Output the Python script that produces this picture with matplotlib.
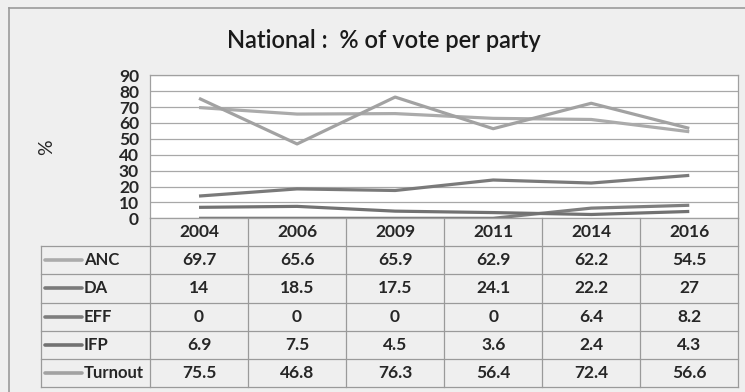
import matplotlib
matplotlib.use("Agg")
import matplotlib.pyplot as plt
from matplotlib.lines import Line2D

years = ["2004", "2006", "2009", "2011", "2014", "2016"]
anc = [69.7, 65.6, 65.9, 62.9, 62.2, 54.5]
da = [14, 18.5, 17.5, 24.1, 22.2, 27]
eff = [0, 0, 0, 0, 6.4, 8.2]
ifp = [6.9, 7.5, 4.5, 3.6, 2.4, 4.3]
turnout = [75.5, 46.8, 76.3, 56.4, 72.4, 56.6]
series_names = ["ANC", "DA", "EFF", "IFP", "Turnout"]
series_vals = [anc, da, eff, ifp, turnout]
series_colors = ["#ababab", "#7a7a7a", "#7e7e7e", "#727272", "#a2a2a2"]
yticks = [0, 10, 20, 30, 40, 50, 60, 70, 80, 90]
title = "National :  % of vote per party"

plt.rcParams["font.family"] = ["Lato", "DejaVu Sans"]

W, H = 745, 392
fig = plt.figure(figsize=(W / 100, H / 100), dpi=100)
fig.patch.set_facecolor("#efefef")

def fx(px):
    return px / W

def fy(py):
    return 1 - py / H

# outer chart border (left + top)
fig.add_artist(Line2D([fx(9), fx(9)], [fy(392), fy(7.5)], color="#9a9a9a", lw=1.2))
fig.add_artist(Line2D([fx(9), fx(745)], [fy(7.5), fy(7.5)], color="#9a9a9a", lw=1.2))

PL, PR, PT, PB = 150, 738.3, 75.3, 218.3
ax = fig.add_axes([fx(PL), fy(PB), fx(PR - PL), (PB - PT) / H])
ax.set_facecolor("white")
x = list(range(len(years)))
for name, vals, c in zip(series_names, series_vals, series_colors):
    ax.plot(x, vals, color=c, lw=2.3, solid_capstyle="butt", zorder=3)
ax.set_xlim(-0.5, len(years) - 0.5)
ax.set_ylim(0, 90)
ax.set_yticks(yticks)
ax.set_yticklabels([str(t) for t in yticks], fontsize=12.5, fontweight="bold", color="#262626")
ax.set_xticks([])
ax.tick_params(axis="y", length=0, pad=8)
ax.yaxis.grid(True, color="#a8a8a8", lw=0.9)
ax.set_axisbelow(True)
for s in ax.spines.values():
    s.set_color("#a0a0a0")
    s.set_linewidth(0.9)
ax.set_ylabel("%", fontsize=14, color="#262626", labelpad=46)

fig.text(fx(384), fy(40), title, fontsize=17, fontweight="semibold", ha="center", va="center",
         color="#1a1a1a")

# data table
TL, TT, TB = 40.7, 218.3, 386.7
colw = (PR - PL) / len(years)
xl = -0.5 - (PL - TL) / colw
tax = fig.add_axes([fx(TL), fy(TB), fx(PR - TL), (TB - TT) / H])
tax.set_xlim(xl, len(years) - 0.5)
nrows = len(series_names) + 1
tax.set_ylim(nrows, 0)
tax.axis("off")
gc = "#9a9a9a"
glw = 0.9
for i in range(len(years) + 1):
    tax.plot([i - 0.5, i - 0.5], [0, nrows], color=gc, lw=glw, clip_on=False)
tax.plot([xl, xl], [1, nrows], color=gc, lw=glw, clip_on=False)
for r in range(1, nrows + 1):
    tax.plot([xl, len(years) - 0.5], [r, r], color=gc, lw=glw, clip_on=False)
for j, yr in enumerate(years):
    tax.text(j, 0.5, yr, ha="center", va="center", fontsize=12.5, fontweight="bold", color="#262626")
for r, (name, vals, c) in enumerate(zip(series_names, series_vals, series_colors), start=1):
    lx0 = xl + (45 - TL) / colw
    lx1 = xl + (82 - TL) / colw
    tax.plot([lx0, lx1], [r + 0.5, r + 0.5], color=c, lw=2.6, solid_capstyle="round", clip_on=False)
    tax.text(xl + (84 - TL) / colw, r + 0.5, name, ha="left", va="center", fontsize=12,
             fontweight="bold", color="#262626")
    for j, v in enumerate(vals):
        tax.text(j, r + 0.5, f"{v:g}", ha="center", va="center", fontsize=12.5,
                 fontweight="bold", color="#262626")

fig.savefig("out.png", dpi=100, facecolor=fig.get_facecolor())
